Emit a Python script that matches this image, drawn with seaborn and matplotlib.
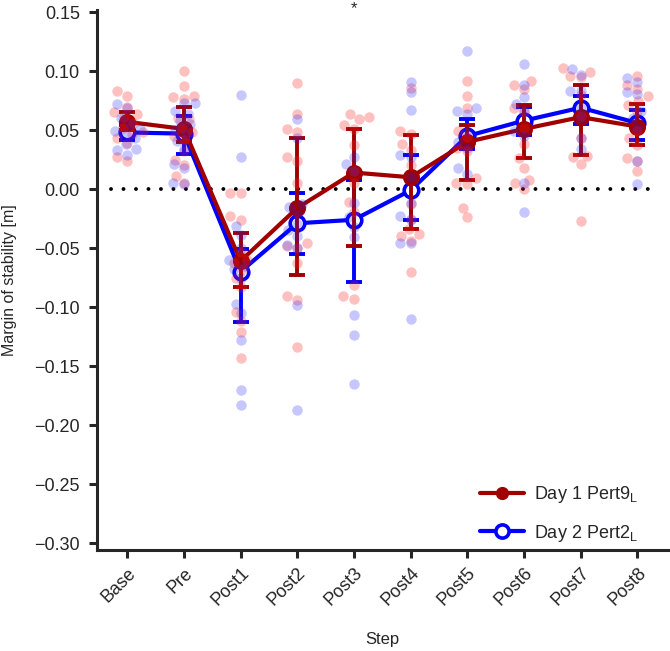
import matplotlib
matplotlib.use("Agg")
import numpy as np
import pandas as pd
import matplotlib.pyplot as plt
from matplotlib.lines import Line2D
import seaborn as sns

# --- dados ---
steps = ["Base", "Pre", "Post1", "Post2", "Post3", "Post4", "Post5", "Post6", "Post7", "Post8"]
label_day1 = r"Day 1 Pert9$_\mathregular{L}$"
label_day2 = r"Day 2 Pert2$_\mathregular{L}$"

# medias e limites das barras de erro
day1_mean = [0.057, 0.051, -0.061, -0.016, 0.014, 0.010, 0.040, 0.051, 0.061, 0.053]
day1_lo = [0.050, 0.040, -0.083, -0.073, -0.048, -0.034, 0.008, 0.026, 0.029, 0.037]
day1_hi = [0.065, 0.070, -0.037, 0.043, 0.051, 0.046, 0.054, 0.071, 0.088, 0.072]

day2_mean = [0.048, 0.047, -0.070, -0.029, -0.026, -0.001, 0.045, 0.058, 0.069, 0.056]
day2_lo = [0.042, 0.030, -0.113, -0.055, -0.079, -0.026, 0.034, 0.046, 0.055, 0.042]
day2_hi = [0.054, 0.062, -0.051, -0.003, 0.008, 0.029, 0.059, 0.070, 0.079, 0.067]

# pontos individuais (um vetor por passo)
day1_points = [
    [0.083, 0.079, 0.070, 0.065, 0.064, 0.061, 0.056, 0.052, 0.048, 0.047, 0.043, 0.039, 0.027, 0.024],
    [0.100, 0.087, 0.079, 0.078, 0.076, 0.060, 0.059, 0.052, 0.048, 0.045, 0.042, 0.032, 0.025, 0.020, 0.011, 0.005],
    [-0.003, -0.003, -0.023, -0.026, -0.053, -0.060, -0.063, -0.068, -0.075, -0.083, -0.104, -0.112, -0.121, -0.143],
    [0.090, 0.064, 0.051, 0.048, 0.027, 0.024, 0.005, -0.046, -0.048, -0.050, -0.063, -0.091, -0.094, -0.134],
    [0.064, 0.061, 0.059, 0.054, 0.051, 0.037, 0.015, 0.005, -0.011, -0.019, -0.081, -0.091, -0.093],
    [0.086, 0.049, 0.047, 0.038, 0.033, 0.020, -0.013, -0.025, -0.034, -0.038, -0.040, -0.044, -0.070],
    [0.092, 0.079, 0.069, 0.049, 0.044, 0.035, 0.032, 0.009, 0.005, 0.004, -0.016, -0.024],
    [0.092, 0.088, 0.085, 0.069, 0.065, 0.052, 0.038, 0.026, 0.018, 0.008, 0.005, 0.000],
    [0.103, 0.099, 0.096, 0.095, 0.080, 0.062, 0.043, 0.028, 0.027, 0.021, -0.027],
    [0.096, 0.088, 0.085, 0.079, 0.075, 0.071, 0.066, 0.049, 0.043, 0.037, 0.026, 0.024, 0.015],
]
day2_points = [
    [0.072, 0.069, 0.060, 0.055, 0.051, 0.049, 0.047, 0.043, 0.038, 0.034, 0.033, 0.029],
    [0.073, 0.073, 0.066, 0.064, 0.058, 0.055, 0.050, 0.047, 0.041, 0.034, 0.021, 0.018, 0.005, 0.004],
    [0.080, 0.027, -0.031, -0.039, -0.050, -0.060, -0.065, -0.068, -0.075, -0.097, -0.105, -0.128, -0.170, -0.183],
    [0.059, 0.043, -0.013, -0.015, -0.021, -0.030, -0.035, -0.040, -0.047, -0.050, -0.098, -0.187],
    [0.027, 0.021, 0.015, -0.012, -0.024, -0.032, -0.041, -0.107, -0.124, -0.165],
    [0.091, 0.082, 0.067, 0.029, 0.027, 0.010, -0.012, -0.023, -0.026, -0.046, -0.046, -0.110],
    [0.117, 0.069, 0.066, 0.064, 0.049, 0.040, 0.035, 0.018, 0.013],
    [0.106, 0.088, 0.078, 0.072, 0.066, 0.049, 0.045, 0.005, -0.019],
    [0.102, 0.097, 0.083, 0.083, 0.069, 0.060, 0.043, 0.034],
    [0.094, 0.091, 0.082, 0.081, 0.066, 0.060, 0.052, 0.024, 0.004],
]

cor_day1 = "#a00000"
cor_day2 = "#0000ff"

# tabela longa para os pontos
linhas = []
for dia, pontos in [(label_day1, day1_points), (label_day2, day2_points)]:
    for passo, valores in zip(steps, pontos):
        for v in valores:
            linhas.append({"Step": passo, "Day": dia, "MoS": v})
df = pd.DataFrame(linhas)

# --- estilo ---
sns.set_theme(style="ticks")
plt.rcParams["font.family"] = ["Liberation Sans", "DejaVu Sans"]
plt.rcParams["axes.linewidth"] = 2.2
plt.rcParams["xtick.major.width"] = 2.2
plt.rcParams["ytick.major.width"] = 2.2
plt.rcParams["xtick.major.size"] = 5.5
plt.rcParams["ytick.major.size"] = 5.5

fig, ax = plt.subplots(figsize=(6.7, 6.51), dpi=100)
fig.subplots_adjust(left=0.145, right=0.997, top=0.985, bottom=0.155)

# pontos individuais
sns.swarmplot(data=df[df["Day"] == label_day1], x="Step", y="MoS", order=steps,
              color="#ff2020", alpha=0.28, size=7.5, linewidth=0, ax=ax)
sns.swarmplot(data=df[df["Day"] == label_day2], x="Step", y="MoS", order=steps,
              color="#2020ff", alpha=0.25, size=7.5, linewidth=0, ax=ax)

ax.axhline(0, xmin=0.025, xmax=0.985, color="black", lw=2.8,
           linestyle=(0, (0.01, 3.2)), dash_capstyle="round")

x_pos = np.arange(len(steps))

# dia 2 (circulo aberto azul)
m2 = np.array(day2_mean)
ax.errorbar(x_pos, m2, yerr=[m2 - np.array(day2_lo), np.array(day2_hi) - m2],
            fmt="none", ecolor=cor_day2, elinewidth=2.8, capsize=5.5, capthick=2.8)
sns.pointplot(x=steps, y=day2_mean, order=steps, color=cor_day2, errorbar=None,
              markers="o", markersize=10.5, linewidth=3, markerfacecolor="white",
              markeredgewidth=2.6, ax=ax)

# dia 1 (circulo cheio vermelho escuro)
m1 = np.array(day1_mean)
ax.errorbar(x_pos, m1, yerr=[m1 - np.array(day1_lo), np.array(day1_hi) - m1],
            fmt="none", ecolor=cor_day1, elinewidth=2.8, capsize=5.5, capthick=2.8)
sns.pointplot(x=steps, y=day1_mean, order=steps, color=cor_day1, errorbar=None,
              markers="o", markersize=10, linewidth=3, ax=ax)

# eixos
ax.set_xlim(-0.53, 9.54)
ax.set_ylim(-0.306, 0.152)
ax.set_yticks(np.arange(-0.30, 0.151, 0.05))
ax.set_xlabel("Step", fontsize=12, labelpad=16)
ax.set_ylabel("Margin of stability [m]", fontsize=11.5, labelpad=12)
ax.tick_params(labelsize=13, pad=5)
ax.tick_params(axis="y", pad=7)
plt.setp(ax.get_xticklabels(), rotation=45, ha="right", rotation_mode="anchor")
sns.despine(ax=ax)

# asterisco de significancia
ax.annotate("*", xy=(steps.index("Post3"), 0.994), xycoords=("data", "axes fraction"),
            ha="center", va="baseline", fontsize=12, annotation_clip=False)

# legenda
handles = [
    Line2D([], [], color=cor_day1, lw=3, marker="o", markersize=8.5),
    Line2D([], [], color=cor_day2, lw=3, marker="o", markersize=9.5,
           markerfacecolor="white", markeredgewidth=2.6),
]
ax.legend(handles, [label_day1, label_day2], loc="lower right",
          bbox_to_anchor=(0.975, -0.018), frameon=False, fontsize=13,
          handlelength=2.4, handletextpad=0.55, labelspacing=0.95)

fig.savefig("out.png", dpi=100)
